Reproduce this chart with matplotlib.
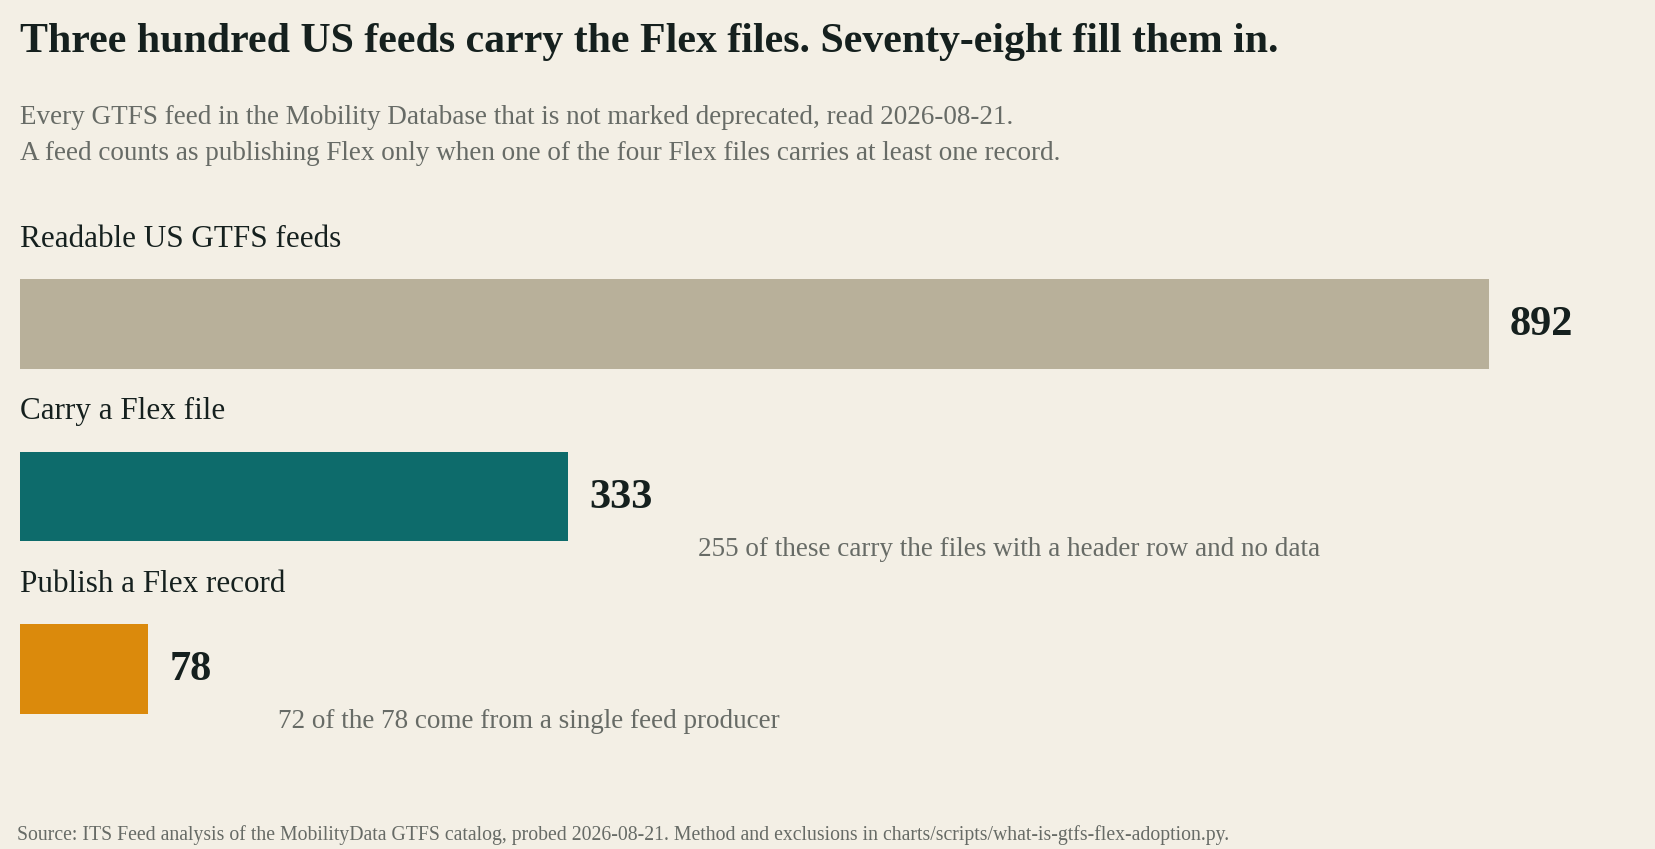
import matplotlib.pyplot as plt

# data
categories = ["Readable US GTFS feeds", "Carry a Flex file", "Publish a Flex record"]
counts = [892, 333, 78]
bar_colors = ["#b8b09a", "#0d6b6b", "#db8a0c"]
notes = [None, "255 of these carry the files with a header row and no data",
         "72 of the 78 come from a single feed producer"]

title = "Three hundred US feeds carry the Flex files. Seventy-eight fill them in."
subtitle = ["Every GTFS feed in the Mobility Database that is not marked deprecated, read 2026-08-21.",
            "A feed counts as publishing Flex only when one of the four Flex files carries at least one record."]
source = ("Source: ITS Feed analysis of the MobilityData GTFS catalog, probed 2026-08-21. "
          "Method and exclusions in charts/scripts/what-is-gtfs-flex-adoption.py.")

BG = "#f3efe5"
DARK = "#15201e"
GREY = "#676b66"
W, H = 1656, 849

plt.rcParams["font.family"] = ["Liberation Serif", "DejaVu Serif"]

fig = plt.figure(figsize=(W / 100, H / 100), dpi=100, facecolor=BG)

# axes placed so that bar rows sit where the reference has them
top_px, bot_px = 237.75, 755.25
ax = fig.add_axes([20 / W, 1 - bot_px / H, 1 - 20 / W, (bot_px - top_px) / H])
ax.set_facecolor(BG)
ax.set_xlim(0, 1636 / 1.647)
ax.set_ylim(2.5, -0.5)
ax.axis("off")

ypos = list(range(len(categories)))
ax.barh(ypos, counts, height=0.52, color=bar_colors, linewidth=0)

for i, (cat, n, note) in enumerate(zip(categories, counts, notes)):
    ax.annotate(cat, (0, i), xytext=(0, 77), textcoords="offset pixels",
                fontsize=22.4, color=DARK, va="baseline", ha="left")
    ax.annotate(f"{n}", (n, i), xytext=(21, -11), textcoords="offset pixels",
                fontsize=30.5, fontweight="bold", color=DARK, va="baseline", ha="left")
    if note:
        ax.annotate(note, (n, i), xytext=(130, -59), textcoords="offset pixels",
                    fontsize=19.5, color=GREY, va="baseline", ha="left")

fig.text(20 / W, 1 - 52 / H, title, fontsize=30.2, fontweight="bold", color=DARK,
         va="baseline", ha="left")
fig.text(20 / W, 1 - 124 / H, subtitle[0], fontsize=19.5, color=GREY, va="baseline", ha="left")
fig.text(20 / W, 1 - 160 / H, subtitle[1], fontsize=19.5, color=GREY, va="baseline", ha="left")
fig.text(17 / W, 1 - 840 / H, source, fontsize=14.2, color=GREY, va="baseline", ha="left")

fig.savefig("out.png", dpi=100, facecolor=BG)
